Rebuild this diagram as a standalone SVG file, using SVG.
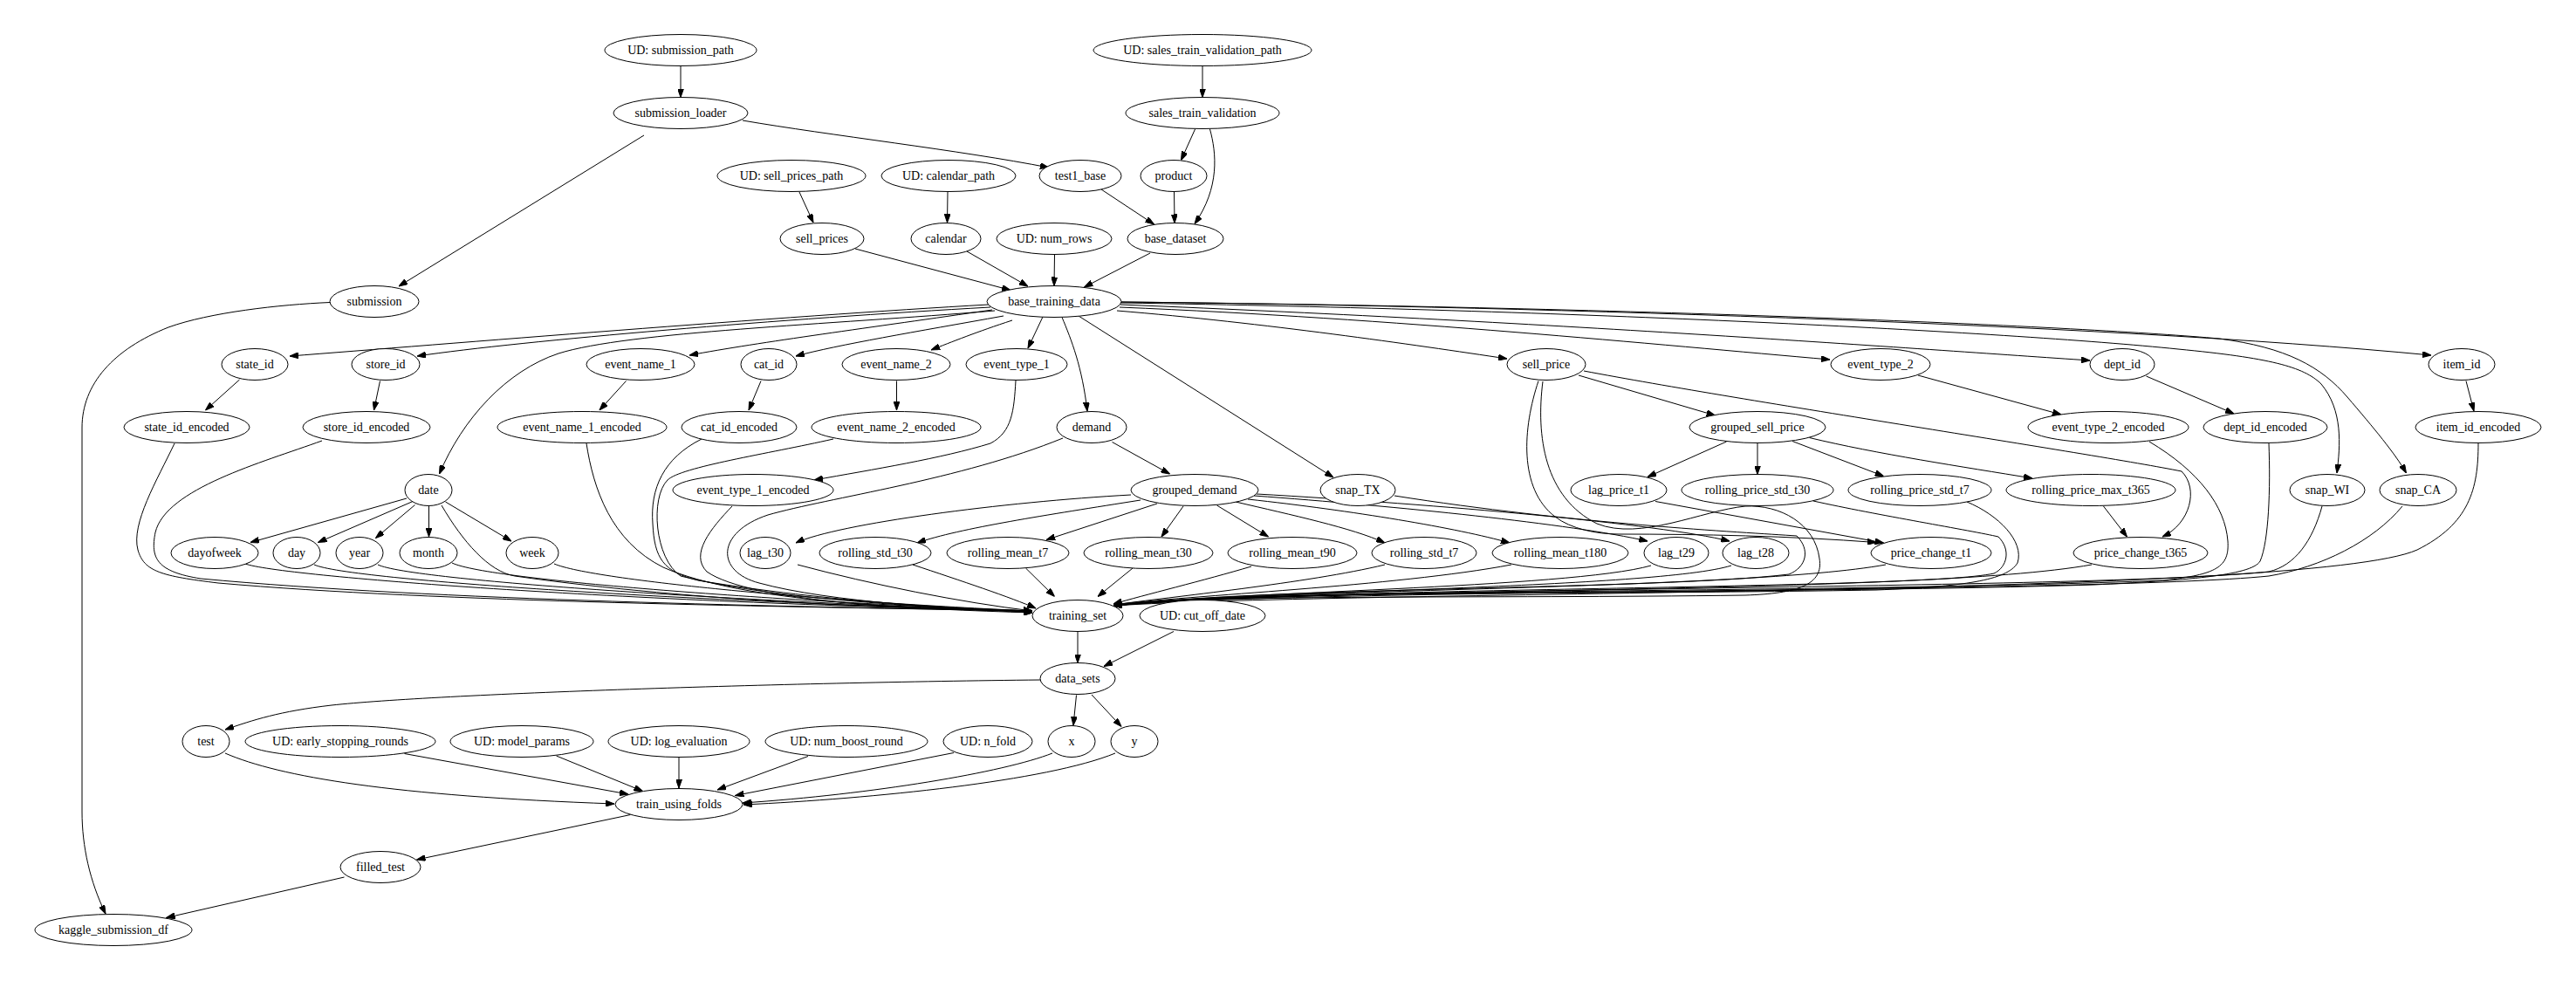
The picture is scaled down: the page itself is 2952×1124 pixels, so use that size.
<svg xmlns="http://www.w3.org/2000/svg" width="2952" height="1124" viewBox="0 0 2952 1124">
<style>
.node ellipse{fill:#fff;stroke:#000;stroke-width:1}
.node text{font-family:"Liberation Serif","Times New Roman",serif;font-size:14px;text-anchor:middle;fill:#000}
.edges path{fill:none;stroke:#000;stroke-width:1;marker-end:url(#arrow)}
</style>
<defs>
<marker id="arrow" markerUnits="userSpaceOnUse" markerWidth="10" markerHeight="7" refX="10" refY="3.5" orient="auto">
<path d="M0,0 L10,3.5 L0,7 z" fill="#000" stroke="#000" stroke-width="1"/>
</marker>
</defs>
<rect width="2952" height="1124" fill="#fff"/>

<g id="connectors" class="edges">
<!-- loaders -->
<path d="M780,75.5 L780,111.5"/>
<path d="M738,155 L457,328"/>
<path d="M851,138 C950,155 1100,172 1202,192"/>
<path d="M1378,75.5 L1378,111.5"/>
<path d="M1369.5,148 L1353.5,183.5"/>
<path d="M1386.5,148 C1394,175 1398,215 1369,256.5"/>
<path d="M1345.5,219.5 L1346,255.5"/>
<path d="M1262,217 L1322.5,257"/>
<path d="M916,220 L932,255"/>
<path d="M1086,220 L1085.5,255"/>
<path d="M980,285 L1158,332.5"/>
<path d="M1108,288 L1178,328"/>
<path d="M1208.5,292 L1208,327.5"/>
<path d="M1318,290 L1242.5,329"/>
<path d="M378,346.5 C320,349 240,358 193,375 C130,400 94,440 94,490 L94,930 C94,970 103,1010 121,1047"/>
<!-- base_training_data fan-out -->
<path d="M1133,349 C900,362 500,395 332,408"/>
<path d="M1135,352 C900,365 600,390 478,408"/>
<path d="M1140,356 C950,372 720,380 640,405 C580,425 530,480 503.5,543"/>
<path d="M1137,355 C1000,375 870,392 790,407"/>
<path d="M1150,362 C1050,380 960,395 912,408"/>
<path d="M1160,367 C1120,380 1090,392 1067,401"/>
<path d="M1195,363 L1178,399"/>
<path d="M1217,363.5 C1228,390 1240,420 1246,471"/>
<path d="M1236,362 L1528,547"/>
<path d="M1280,356 C1450,370 1620,395 1727,411"/>
<path d="M1283,352 C1600,365 1900,395 2097,412"/>
<path d="M1284,349 C1800,370 2200,400 2395,413"/>
<path d="M1285,346 C1700,350 2400,370 2786,407"/>
<path d="M1285,347 C1800,355 2300,380 2496,400 C2600,410 2640,420 2660,440 C2685,470 2682,510 2678,542"/>
<path d="M1285,346 C1900,352 2400,375 2543,388 C2620,398 2660,420 2690,455 C2720,490 2745,520 2757.5,542"/>
<!-- encoders -->
<path d="M274.5,435 L235.5,470"/>
<path d="M435.5,436.5 L428.5,470"/>
<path d="M717.5,436.5 L687,470"/>
<path d="M872,436.5 L858,470"/>
<path d="M1027.5,436.5 L1027.5,470"/>
<path d="M1164,436 C1162,470 1160,495 1135,508 C1080,525 1000,538 933,550"/>
<path d="M1274.5,506.5 L1340.5,543"/>
<path d="M2198,430 L2362,475"/>
<path d="M2459.5,431 L2560,474"/>
<path d="M2826,436.5 L2835,471"/>
<!-- date parts -->
<path d="M466,571 L287,621.5"/>
<path d="M473,574.5 L364.5,621.5"/>
<path d="M475.5,578.5 L430.5,616.5"/>
<path d="M491.5,580 L491.5,615"/>
<path d="M510.5,575 L586,620"/>
<!-- grouped_demand -->
<path d="M1296,567 C1150,575 960,600 912,622"/>
<path d="M1307,573 C1200,590 1100,605 1051,622"/>
<path d="M1326,577 L1199,618.5"/>
<path d="M1356,580 L1331,615"/>
<path d="M1394.5,579 L1453.5,615"/>
<path d="M1416,575 C1480,590 1550,605 1587,622"/>
<path d="M1430,572 C1550,585 1670,605 1730,622"/>
<path d="M1437,568 C1600,580 1800,600 1888,620"/>
<path d="M1440,566 C1650,578 1900,600 1982,620"/>
<!-- sell price features -->
<path d="M1809,430 L1965.5,476"/>
<path d="M1978.5,506 L1888,546.5"/>
<path d="M2014,508 L2014,543.5"/>
<path d="M2054,505.5 L2158.5,545.5"/>
<path d="M2073.5,501.5 C2150,520 2250,535 2329,548"/>
<path d="M1897,574.5 L2158.5,622"/>
<path d="M1763,436.5 C1745,490 1740,560 1782,592 C1800,606 1830,612 1855,612 C1950,612 2050,614 2150,621.5"/>
<path d="M1815,425 C2000,460 2400,520 2500,540 C2520,560 2510,600 2478,615"/>
<path d="M2410.5,580 L2437.5,615"/>
<!-- into training_set: left bundle -->
<path d="M200,508 C180,550 150,600 158,630 C165,655 185,660 250,668 C500,690 900,695 1183,700"/>
<path d="M369,505 C300,530 190,560 178,610 C172,640 180,655 230,663 C500,688 900,695 1183,700"/>
<path d="M672,508 C680,560 700,620 760,650 C850,690 1050,698 1183,700"/>
<path d="M804,503 C760,525 745,560 748,600 C750,640 760,655 800,665 C950,690 1100,697 1183,701"/>
<path d="M955,503 C880,520 780,535 765,550 C745,570 750,640 780,660 C900,690 1100,697 1183,701"/>
<path d="M839,580 C815,605 790,635 810,655 C860,690 1050,698 1183,702"/>
<path d="M1218,502 C1100,550 950,570 880,590 C820,610 820,655 870,668 C950,690 1100,698 1183,702"/>
<path d="M506,579 C530,620 560,655 590,660 C800,690 1050,698 1183,700"/>
<path d="M281,646 C320,660 700,690 1183,700"/>
<path d="M360,647 C400,665 800,690 1183,700"/>
<path d="M433,647 C470,665 850,690 1183,700"/>
<path d="M518,645 C560,665 900,690 1183,700"/>
<path d="M635,646 C680,665 950,690 1183,700"/>
<path d="M914,647 C1000,670 1100,690 1183,700"/>
<path d="M1046,647 C1100,665 1160,685 1187,697"/>
<path d="M1175.5,651 L1208.5,683.5"/>
<path d="M1298,651 L1258,683.5"/>
<!-- into training_set: right bundle -->
<path d="M1434,649 C1380,665 1310,682 1276,692"/>
<path d="M1587,647 C1500,668 1340,684 1276,693"/>
<path d="M1732,647 C1600,672 1360,682 1276,693"/>
<path d="M1892,648 C1800,674 1400,678 1276,694"/>
<path d="M1984,648 C1900,674 1450,676 1276,694"/>
<path d="M2161,647 C2000,676 1450,674 1276,694"/>
<path d="M2397,647 C2200,682 1500,672 1276,694"/>
<path d="M1598,568 C1800,600 2000,610 2059,614 C2075,630 2070,650 2050,658 C1900,676 1450,672 1276,694"/>
<path d="M1768,437 C1760,500 1770,570 1830,600 C1880,620 1950,585 2000,580 C2040,578 2080,600 2085,640 C2090,670 2060,680 2000,682 C1700,686 1400,680 1276,694"/>
<path d="M2078,574 C2150,590 2260,608 2290,615 C2305,630 2300,650 2285,657 C2200,676 1500,672 1276,694"/>
<path d="M2254,575 C2290,590 2320,620 2312,645 C2300,665 2250,672 2150,676 C1800,682 1400,676 1276,694"/>
<path d="M2463,506 C2520,540 2550,580 2553,620 C2555,650 2540,658 2480,665 C2100,680 1450,674 1276,694"/>
<path d="M2600,508 C2602,560 2600,620 2590,643 C2580,660 2500,665 2400,670 C2000,682 1450,674 1276,694"/>
<path d="M2661,580 C2650,620 2630,648 2600,655 C2400,676 1500,672 1276,694"/>
<path d="M2753,580 C2720,620 2660,650 2600,660 C2400,680 1500,674 1276,694"/>
<path d="M2840,508 C2840,560 2830,600 2770,630 C2650,684 1550,676 1276,694"/>
<!-- training stage -->
<path d="M1235,723.5 L1235,759.5"/>
<path d="M1345,723.5 L1265,763.5"/>
<path d="M1192,779 C900,782 500,795 380,808 C320,815 290,825 258,836"/>
<path d="M1233.5,796.5 L1230,831"/>
<path d="M1251,796 L1285,832.5"/>
<path d="M258,863 C320,890 450,912 704,921"/>
<path d="M463.5,863.5 L720,910"/>
<path d="M637.5,866 L736.5,906.5"/>
<path d="M778,868 L778,903"/>
<path d="M926,866.5 L822,905"/>
<path d="M1093,862.5 L842.5,911.5"/>
<path d="M1206,863 C1150,885 1000,910 851,920"/>
<path d="M1278,863 C1200,895 1000,915 852,922"/>
<path d="M722.5,933.5 L477.5,985"/>
<path d="M394.5,1005 L190.5,1051.5"/>
</g>

<g id="ud_submission_path" class="node"><ellipse cx="780" cy="57.5" rx="87" ry="18"/><text x="780" y="62">UD: submission_path</text></g>
<g id="ud_sales_train_validation_path" class="node"><ellipse cx="1378" cy="57.5" rx="125" ry="18"/><text x="1378" y="62">UD: sales_train_validation_path</text></g>
<g id="submission_loader" class="node"><ellipse cx="780" cy="129.5" rx="77" ry="18"/><text x="780" y="134">submission_loader</text></g>
<g id="sales_train_validation" class="node"><ellipse cx="1378" cy="129.5" rx="88" ry="18"/><text x="1378" y="134">sales_train_validation</text></g>
<g id="ud_sell_prices_path" class="node"><ellipse cx="907" cy="201.5" rx="85" ry="18"/><text x="907" y="206">UD: sell_prices_path</text></g>
<g id="ud_calendar_path" class="node"><ellipse cx="1087" cy="201.5" rx="77" ry="18"/><text x="1087" y="206">UD: calendar_path</text></g>
<g id="test1_base" class="node"><ellipse cx="1238" cy="201.5" rx="47" ry="18"/><text x="1238" y="206">test1_base</text></g>
<g id="product" class="node"><ellipse cx="1345" cy="201.5" rx="38" ry="18"/><text x="1345" y="206">product</text></g>
<g id="sell_prices" class="node"><ellipse cx="942" cy="273.5" rx="48" ry="18"/><text x="942" y="278">sell_prices</text></g>
<g id="calendar" class="node"><ellipse cx="1084" cy="273.5" rx="40" ry="18"/><text x="1084" y="278">calendar</text></g>
<g id="ud_num_rows" class="node"><ellipse cx="1208" cy="273.5" rx="66" ry="18"/><text x="1208" y="278">UD: num_rows</text></g>
<g id="base_dataset" class="node"><ellipse cx="1347" cy="273.5" rx="55" ry="18"/><text x="1347" y="278">base_dataset</text></g>
<g id="submission" class="node"><ellipse cx="429" cy="345.5" rx="51" ry="18"/><text x="429" y="350">submission</text></g>
<g id="base_training_data" class="node"><ellipse cx="1208" cy="345.5" rx="77" ry="18"/><text x="1208" y="350">base_training_data</text></g>

<g id="state_id" class="node"><ellipse cx="292" cy="417.5" rx="38" ry="18"/><text x="292" y="422">state_id</text></g>
<g id="store_id" class="node"><ellipse cx="442" cy="417.5" rx="39" ry="18"/><text x="442" y="422">store_id</text></g>
<g id="event_name_1" class="node"><ellipse cx="734" cy="417.5" rx="62" ry="18"/><text x="734" y="422">event_name_1</text></g>
<g id="cat_id" class="node"><ellipse cx="881" cy="417.5" rx="32" ry="18"/><text x="881" y="422">cat_id</text></g>
<g id="event_name_2" class="node"><ellipse cx="1027" cy="417.5" rx="62" ry="18"/><text x="1027" y="422">event_name_2</text></g>
<g id="event_type_1" class="node"><ellipse cx="1165" cy="417.5" rx="58" ry="18"/><text x="1165" y="422">event_type_1</text></g>
<g id="sell_price" class="node"><ellipse cx="1772" cy="417.5" rx="45" ry="18"/><text x="1772" y="422">sell_price</text></g>
<g id="event_type_2" class="node"><ellipse cx="2155" cy="417.5" rx="57" ry="18"/><text x="2155" y="422">event_type_2</text></g>
<g id="dept_id" class="node"><ellipse cx="2432" cy="417.5" rx="37" ry="18"/><text x="2432" y="422">dept_id</text></g>
<g id="item_id" class="node"><ellipse cx="2821" cy="417.5" rx="38" ry="18"/><text x="2821" y="422">item_id</text></g>

<g id="state_id_encoded" class="node"><ellipse cx="214" cy="489.5" rx="72" ry="18"/><text x="214" y="494">state_id_encoded</text></g>
<g id="store_id_encoded" class="node"><ellipse cx="420" cy="489.5" rx="73" ry="18"/><text x="420" y="494">store_id_encoded</text></g>
<g id="event_name_1_encoded" class="node"><ellipse cx="667" cy="489.5" rx="97" ry="18"/><text x="667" y="494">event_name_1_encoded</text></g>
<g id="cat_id_encoded" class="node"><ellipse cx="847" cy="489.5" rx="66" ry="18"/><text x="847" y="494">cat_id_encoded</text></g>
<g id="event_name_2_encoded" class="node"><ellipse cx="1027" cy="489.5" rx="97" ry="18"/><text x="1027" y="494">event_name_2_encoded</text></g>
<g id="demand" class="node"><ellipse cx="1251" cy="489.5" rx="40" ry="18"/><text x="1251" y="494">demand</text></g>
<g id="grouped_sell_price" class="node"><ellipse cx="2014" cy="489.5" rx="78" ry="18"/><text x="2014" y="494">grouped_sell_price</text></g>
<g id="event_type_2_encoded" class="node"><ellipse cx="2416" cy="489.5" rx="92" ry="18"/><text x="2416" y="494">event_type_2_encoded</text></g>
<g id="dept_id_encoded" class="node"><ellipse cx="2596" cy="489.5" rx="71" ry="18"/><text x="2596" y="494">dept_id_encoded</text></g>
<g id="item_id_encoded" class="node"><ellipse cx="2840" cy="489.5" rx="72" ry="18"/><text x="2840" y="494">item_id_encoded</text></g>

<g id="date" class="node"><ellipse cx="491" cy="561.5" rx="27" ry="18"/><text x="491" y="566">date</text></g>
<g id="event_type_1_encoded" class="node"><ellipse cx="863" cy="561.5" rx="92" ry="18"/><text x="863" y="566">event_type_1_encoded</text></g>
<g id="grouped_demand" class="node"><ellipse cx="1369" cy="561.5" rx="73" ry="18"/><text x="1369" y="566">grouped_demand</text></g>
<g id="snap_TX" class="node"><ellipse cx="1556" cy="561.5" rx="43" ry="18"/><text x="1556" y="566">snap_TX</text></g>
<g id="lag_price_t1" class="node"><ellipse cx="1855" cy="561.5" rx="55" ry="18"/><text x="1855" y="566">lag_price_t1</text></g>
<g id="rolling_price_std_t30" class="node"><ellipse cx="2014" cy="561.5" rx="87" ry="18"/><text x="2014" y="566">rolling_price_std_t30</text></g>
<g id="rolling_price_std_t7" class="node"><ellipse cx="2200" cy="561.5" rx="82" ry="18"/><text x="2200" y="566">rolling_price_std_t7</text></g>
<g id="rolling_price_max_t365" class="node"><ellipse cx="2396" cy="561.5" rx="97" ry="18"/><text x="2396" y="566">rolling_price_max_t365</text></g>
<g id="snap_WI" class="node"><ellipse cx="2667" cy="561.5" rx="43" ry="18"/><text x="2667" y="566">snap_WI</text></g>
<g id="snap_CA" class="node"><ellipse cx="2771" cy="561.5" rx="44" ry="18"/><text x="2771" y="566">snap_CA</text></g>

<g id="dayofweek" class="node"><ellipse cx="246" cy="633.5" rx="50" ry="18"/><text x="246" y="638">dayofweek</text></g>
<g id="day" class="node"><ellipse cx="340" cy="633.5" rx="27" ry="18"/><text x="340" y="638">day</text></g>
<g id="year" class="node"><ellipse cx="412" cy="633.5" rx="27" ry="18"/><text x="412" y="638">year</text></g>
<g id="month" class="node"><ellipse cx="491" cy="633.5" rx="33" ry="18"/><text x="491" y="638">month</text></g>
<g id="week" class="node"><ellipse cx="610" cy="633.5" rx="30" ry="18"/><text x="610" y="638">week</text></g>
<g id="lag_t30" class="node"><ellipse cx="877" cy="633.5" rx="29" ry="18"/><text x="877" y="638">lag_t30</text></g>
<g id="rolling_std_t30" class="node"><ellipse cx="1003" cy="633.5" rx="64" ry="18"/><text x="1003" y="638">rolling_std_t30</text></g>
<g id="rolling_mean_t7" class="node"><ellipse cx="1155" cy="633.5" rx="70" ry="18"/><text x="1155" y="638">rolling_mean_t7</text></g>
<g id="rolling_mean_t30" class="node"><ellipse cx="1316" cy="633.5" rx="74" ry="18"/><text x="1316" y="638">rolling_mean_t30</text></g>
<g id="rolling_mean_t90" class="node"><ellipse cx="1481" cy="633.5" rx="74" ry="18"/><text x="1481" y="638">rolling_mean_t90</text></g>
<g id="rolling_std_t7" class="node"><ellipse cx="1632" cy="633.5" rx="60" ry="18"/><text x="1632" y="638">rolling_std_t7</text></g>
<g id="rolling_mean_t180" class="node"><ellipse cx="1788" cy="633.5" rx="78" ry="18"/><text x="1788" y="638">rolling_mean_t180</text></g>
<g id="lag_t29" class="node"><ellipse cx="1921" cy="633.5" rx="37" ry="18"/><text x="1921" y="638">lag_t29</text></g>
<g id="lag_t28" class="node"><ellipse cx="2012" cy="633.5" rx="38" ry="18"/><text x="2012" y="638">lag_t28</text></g>
<g id="price_change_t1" class="node"><ellipse cx="2213" cy="633.5" rx="69" ry="18"/><text x="2213" y="638">price_change_t1</text></g>
<g id="price_change_t365" class="node"><ellipse cx="2453" cy="633.5" rx="77" ry="18"/><text x="2453" y="638">price_change_t365</text></g>

<g id="training_set" class="node"><ellipse cx="1235" cy="705.5" rx="52" ry="18"/><text x="1235" y="710">training_set</text></g>
<g id="ud_cut_off_date" class="node"><ellipse cx="1378" cy="705.5" rx="72" ry="18"/><text x="1378" y="710">UD: cut_off_date</text></g>
<g id="data_sets" class="node"><ellipse cx="1235" cy="777.5" rx="43" ry="18"/><text x="1235" y="782">data_sets</text></g>

<g id="test" class="node"><ellipse cx="236" cy="849.5" rx="27" ry="18"/><text x="236" y="854">test</text></g>
<g id="ud_early_stopping_rounds" class="node"><ellipse cx="390" cy="849.5" rx="109" ry="18"/><text x="390" y="854">UD: early_stopping_rounds</text></g>
<g id="ud_model_params" class="node"><ellipse cx="598" cy="849.5" rx="82" ry="18"/><text x="598" y="854">UD: model_params</text></g>
<g id="ud_log_evaluation" class="node"><ellipse cx="778" cy="849.5" rx="81" ry="18"/><text x="778" y="854">UD: log_evaluation</text></g>
<g id="ud_num_boost_round" class="node"><ellipse cx="970" cy="849.5" rx="93" ry="18"/><text x="970" y="854">UD: num_boost_round</text></g>
<g id="ud_n_fold" class="node"><ellipse cx="1132" cy="849.5" rx="51" ry="18"/><text x="1132" y="854">UD: n_fold</text></g>
<g id="x" class="node"><ellipse cx="1228" cy="849.5" rx="27" ry="18"/><text x="1228" y="854">x</text></g>
<g id="y" class="node"><ellipse cx="1300" cy="849.5" rx="27" ry="18"/><text x="1300" y="854">y</text></g>
<g id="train_using_folds" class="node"><ellipse cx="778" cy="921.5" rx="73" ry="18"/><text x="778" y="926">train_using_folds</text></g>
<g id="filled_test" class="node"><ellipse cx="436" cy="993.5" rx="46" ry="18"/><text x="436" y="998">filled_test</text></g>
<g id="kaggle_submission_df" class="node"><ellipse cx="130" cy="1065.5" rx="90" ry="18"/><text x="130" y="1070">kaggle_submission_df</text></g>
</svg>
